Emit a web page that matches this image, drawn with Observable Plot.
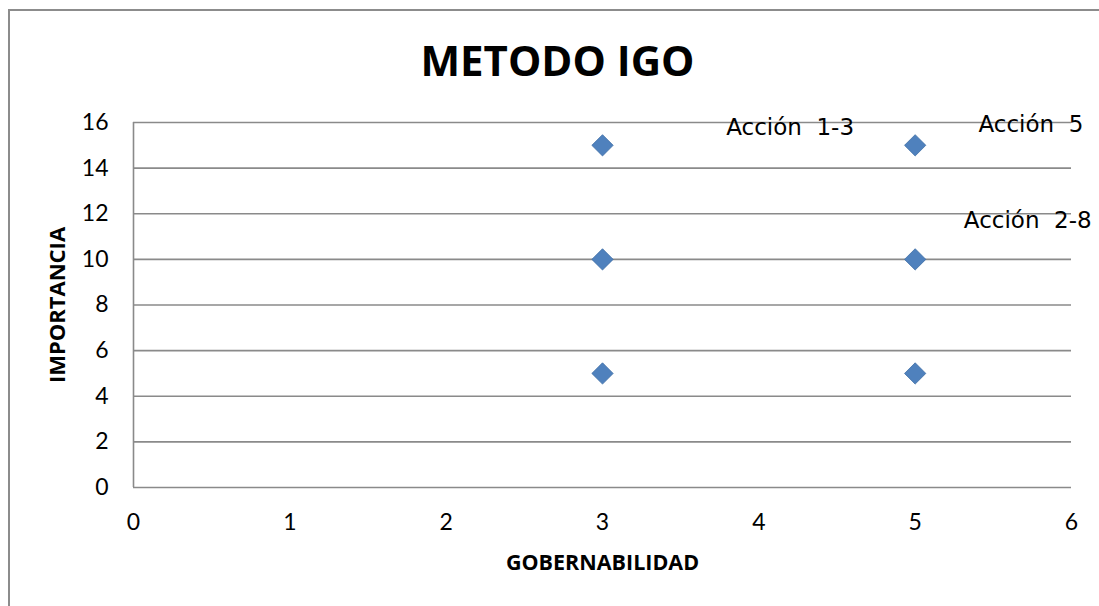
<!DOCTYPE html>
<html>
<head>
<meta charset="utf-8">
<script src="https://cdn.jsdelivr.net/npm/d3@7"></script>
<script src="https://cdn.jsdelivr.net/npm/@observablehq/plot@0.6"></script>
<style>
  html, body { margin: 0; padding: 0; background: #fff; overflow: hidden; }
  #wrap { position: relative; width: 1099px; height: 606px; overflow: hidden; }
  .bline { position: absolute; background: #8c8c8c; }
  #chart { position: absolute; left: 0; top: 0; }
</style>
</head>
<body>
<div id="wrap">
  <div class="bline" style="left:8px; top:9px; width:1091px; height:2px;"></div>
  <div class="bline" style="left:8px; top:9px; width:2px; height:597px;"></div>
  <div id="chart"></div>
</div>
<script>
const title = "METODO IGO";
const xLabel = "GOBERNABILIDAD";
const yLabel = "IMPORTANCIA";
const gobernabilidad = [3, 5, 3, 5, 3, 5];
const importancia = [15, 15, 10, 10, 5, 5];
const labelText = ["Acción  1-3", "Acción  5", "Acción  2-8"];
const labelX = [4.2, 5.74, 5.72];
const labelY = [15.78, 15.91, 11.7];
const xTicks = [0, 1, 2, 3, 4, 5, 6];
const yTicks = [0, 2, 4, 6, 8, 10, 12, 14, 16];

const points = gobernabilidad.map((x, i) => ({x, y: importancia[i]}));
const labels = labelText.map((t, i) => ({t, x: labelX[i], y: labelY[i]}));

const tickFont = "Lato, 'Open Sans', sans-serif";
const boldFont = "'Open Sans', sans-serif";

const chart = Plot.plot({
  width: 1099,
  height: 606,
  marginLeft: 133,
  marginRight: 28,
  marginTop: 122,
  marginBottom: 119,
  style: { background: "transparent", fontFamily: tickFont, fontSize: "23px", color: "#000" },
  x: { domain: [0, 6], ticks: xTicks, tickFormat: "d" },
  y: { domain: [0, 16], ticks: yTicks, tickFormat: "d" },
  marks: [
    Plot.ruleY(yTicks.filter(d => d > 0), { stroke: "#8a8a8a", strokeWidth: 1.6 }),
    Plot.ruleY([0], { stroke: "#8a8a8a", strokeWidth: 1.6 }),
    Plot.ruleX([0], { stroke: "#8a8a8a", strokeWidth: 1.6 }),
    Plot.axisY({ ticks: yTicks, tickFormat: "d", tickSize: 0, tickPadding: 25, label: null, fontSize: 23, fill: "#000" }),
    Plot.axisX({ ticks: xTicks, tickFormat: "d", tickSize: 0, tickPadding: 26, label: null, fontSize: 23, fill: "#000" }),
    Plot.dot(points, { x: "x", y: "y", symbol: "diamond2", r: 9.6, fill: "#4F81BD", stroke: "#3E6DA5", strokeWidth: 0.8 }),
    Plot.text(labels, { x: "x", y: "y", text: "t", fontSize: 23, fontFamily: "'DejaVu Sans', sans-serif", fill: "#000", lineAnchor: "middle" }),
    Plot.text([title], { frameAnchor: "top", dx: -45, dy: -60, fontSize: 42, fontWeight: "bold", fontFamily: boldFont, fill: "#000", lineAnchor: "middle", textAnchor: "middle" }),
    Plot.text([xLabel], { frameAnchor: "bottom", dy: 76, fontSize: 21.5, fontWeight: "bold", fontFamily: boldFont, fill: "#000", lineAnchor: "middle", textAnchor: "middle" }),
    Plot.text([yLabel], { frameAnchor: "left", dx: -76, rotate: -90, fontSize: 22, fontWeight: "bold", fontFamily: boldFont, fill: "#000", lineAnchor: "middle", textAnchor: "middle" })
  ]
});
document.getElementById("chart").appendChild(chart);
</script>
</body>
</html>
